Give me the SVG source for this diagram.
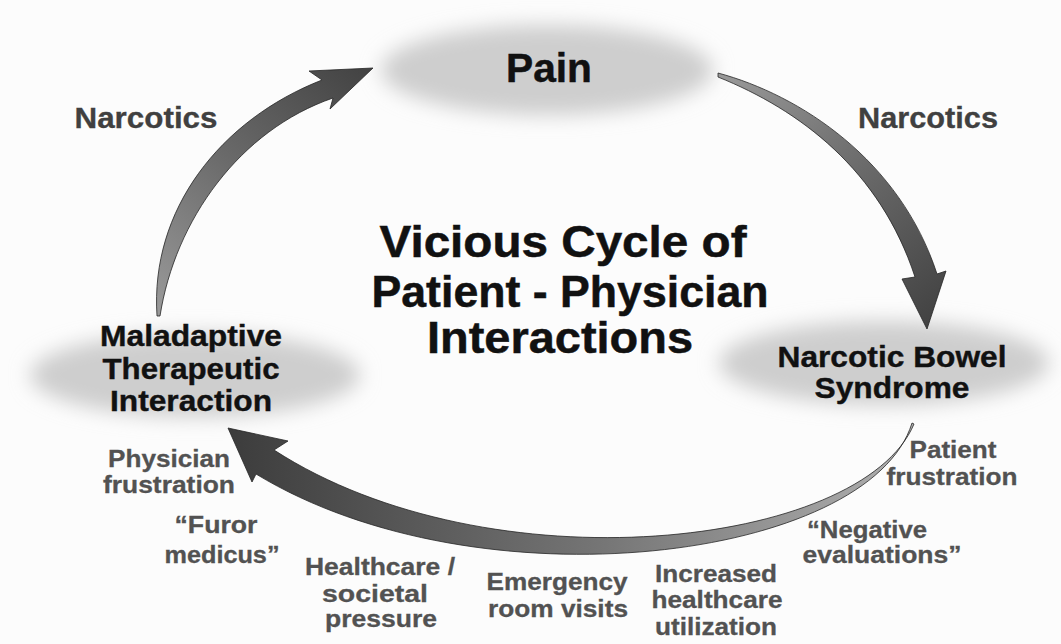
<svg xmlns="http://www.w3.org/2000/svg" width="1061" height="644" viewBox="0 0 1061 644">
  <style>
    text { font-family: "Liberation Sans", Arial, sans-serif; font-weight: bold; text-anchor: middle; }
    .node { font-size: 29px; fill: #111; stroke: #111; stroke-width: 0.4; }
    .title { font-size: 45px; fill: #111; stroke: #111; stroke-width: 0.5; }
    .narc { font-size: 29px; fill: #404040; stroke: #404040; stroke-width: 0.3; }
    .lab { font-size: 24px; fill: #525252; stroke: #525252; stroke-width: 0.3; }
    .blob { fill: #cecece; filter: url(#blur); }
    .arrow { stroke: #262626; stroke-width: 0.8; stroke-linejoin: round; }
  </style>
  <defs>
    <filter id="blur" x="-30%" y="-60%" width="160%" height="220%">
      <feGaussianBlur stdDeviation="10"/>
    </filter>
    <linearGradient id="gL" gradientUnits="userSpaceOnUse" x1="158" y1="316" x2="372" y2="68">
      <stop offset="0" stop-color="#9a9a9a"/>
      <stop offset="0.5" stop-color="#6a6a6a"/>
      <stop offset="1" stop-color="#424242"/>
    </linearGradient>
    <linearGradient id="gR" gradientUnits="userSpaceOnUse" x1="718" y1="75" x2="927" y2="328">
      <stop offset="0" stop-color="#9a9a9a"/>
      <stop offset="0.5" stop-color="#6a6a6a"/>
      <stop offset="1" stop-color="#424242"/>
    </linearGradient>
    <linearGradient id="gB" gradientUnits="userSpaceOnUse" x1="912" y1="423" x2="228" y2="428">
      <stop offset="0" stop-color="#b0b0b0"/>
      <stop offset="0.45" stop-color="#767676"/>
      <stop offset="1" stop-color="#3c3c3c"/>
    </linearGradient>
  </defs>

  <rect width="1061" height="644" fill="#fcfcfc"/>

  <g id="node-pain">
    <ellipse class="blob" cx="547" cy="70" rx="166" ry="45"/>
    <text x="549" y="82" style="font-size:40px" fill="#111" stroke="#111" stroke-width="0.5" textLength="86" lengthAdjust="spacingAndGlyphs">Pain</text>
  </g>

  <g id="node-nbs">
    <ellipse class="blob" cx="884" cy="363" rx="165" ry="42"/>
    <text class="node" x="892" y="367" textLength="229" lengthAdjust="spacingAndGlyphs">Narcotic Bowel</text>
    <text class="node" x="892" y="398" textLength="155" lengthAdjust="spacingAndGlyphs">Syndrome</text>
  </g>

  <g id="node-maladaptive">
    <ellipse class="blob" cx="195" cy="375" rx="165" ry="42"/>
    <text class="node" x="191" y="346" textLength="182" lengthAdjust="spacingAndGlyphs">Maladaptive</text>
    <text class="node" x="191" y="379" textLength="177" lengthAdjust="spacingAndGlyphs">Therapeutic</text>
    <text class="node" x="191" y="411" textLength="162" lengthAdjust="spacingAndGlyphs">Interaction</text>
  </g>

  <g id="title">
    <text class="title" x="563" y="257" textLength="367" lengthAdjust="spacingAndGlyphs">Vicious Cycle of</text>
    <text class="title" x="570" y="307" textLength="397" lengthAdjust="spacingAndGlyphs">Patient - Physician</text>
    <text class="title" x="560" y="353" textLength="266" lengthAdjust="spacingAndGlyphs">Interactions</text>
  </g>

  <g id="connectors">
    <path class="arrow" fill="url(#gL)" d="M157,316 C150,210 220,120 322,80 L309,71 L373,68 L330,109 L333,98 C240,130 175,220 160,316 Z"/>
    <path class="arrow" fill="url(#gR)" d="M718,73 C800,95 900,160 937,274 L946,271 L927,329 L902,279 L915,277 C880,170 800,110 718,77 Z"/>
    <path class="arrow" fill="url(#gB)" d="M912,423 C870,560 480,610 256,474 L252,482 L228,428 L288,441 L274,450 C490,590 862,548 914,424 Z"/>
  </g>

  <g id="labels">
    <text class="narc" x="146" y="128" textLength="143" lengthAdjust="spacingAndGlyphs">Narcotics</text>
    <text class="narc" x="928" y="128" textLength="140" lengthAdjust="spacingAndGlyphs">Narcotics</text>

    <text class="lab" x="953" y="458" textLength="87" lengthAdjust="spacingAndGlyphs">Patient</text>
    <text class="lab" x="952" y="485" textLength="131" lengthAdjust="spacingAndGlyphs">frustration</text>

    <text class="lab" x="867" y="538" textLength="120" lengthAdjust="spacingAndGlyphs">“Negative</text>
    <text class="lab" x="882" y="563" textLength="159" lengthAdjust="spacingAndGlyphs">evaluations”</text>

    <text class="lab" x="716" y="582" textLength="122" lengthAdjust="spacingAndGlyphs">Increased</text>
    <text class="lab" x="717" y="608" textLength="131" lengthAdjust="spacingAndGlyphs">healthcare</text>
    <text class="lab" x="716" y="635" textLength="122" lengthAdjust="spacingAndGlyphs">utilization</text>

    <text class="lab" x="557" y="590" textLength="141" lengthAdjust="spacingAndGlyphs">Emergency</text>
    <text class="lab" x="558" y="617" textLength="140" lengthAdjust="spacingAndGlyphs">room visits</text>

    <text class="lab" x="380" y="575" textLength="150" lengthAdjust="spacingAndGlyphs">Healthcare /</text>
    <text class="lab" x="375" y="602" textLength="106" lengthAdjust="spacingAndGlyphs">societal</text>
    <text class="lab" x="381" y="627" textLength="112" lengthAdjust="spacingAndGlyphs">pressure</text>

    <text class="lab" x="216" y="533" textLength="83" lengthAdjust="spacingAndGlyphs">“Furor</text>
    <text class="lab" x="222" y="563" textLength="115" lengthAdjust="spacingAndGlyphs">medicus”</text>

    <text class="lab" x="169" y="467" textLength="122" lengthAdjust="spacingAndGlyphs">Physician</text>
    <text class="lab" x="169" y="493" textLength="132" lengthAdjust="spacingAndGlyphs">frustration</text>
  </g>
</svg>
